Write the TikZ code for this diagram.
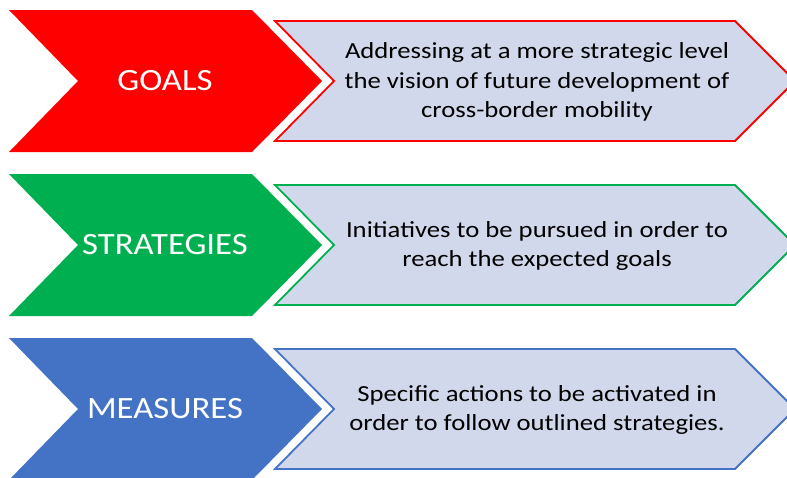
\documentclass[tikz,border=0pt]{standalone}
\usepackage{fontspec}
\setmainfont{Carlito}

\definecolor{goalred}{HTML}{FF0000}
\definecolor{stratgreen}{HTML}{00B050}
\definecolor{measblue}{HTML}{4472C4}
\definecolor{boxfill}{HTML}{D2D8EB}

\tikzset{
  chevlabel/.style={text=white,font=\fontsize{31}{37}\selectfont,xscale=1.12,transform shape},
  boxtext/.style={align=center,text=black,font=\fontsize{23}{29.5}\selectfont,xscale=1.16,transform shape},
  boxline/.style={line width=1.8pt,fill=boxfill,line join=miter},
}

\begin{document}
\begin{tikzpicture}[x=1pt,y=-1pt]
  \useasboundingbox (0,0) rectangle (787,477);
  \clip (0,0) rectangle (787,477);

  % goals
  \fill[goalred] (9,10) -- (252,10) -- (322,81) -- (252,152) -- (9,152) -- (78,81) -- cycle;
  \draw[boxline,draw=goalred] (275,21) -- (735,21) -- (795,81) -- (735,141) -- (275,141) -- (334,81) -- cycle;
  \node[chevlabel] (goals) at (165,81) {GOALS};
  \node[boxtext] (goalstext) at (537,82) {Addressing at a more strategic level\\the vision of future development of\\cross-border mobility};

  % strategies
  \fill[stratgreen] (9,174) -- (252,174) -- (322,245) -- (252,316) -- (9,316) -- (78,245) -- cycle;
  \draw[boxline,draw=stratgreen] (275,185) -- (735,185) -- (795,245) -- (735,305) -- (275,305) -- (334,245) -- cycle;
  \node[chevlabel] (strategies) at (165,245) {STRATEGIES};
  \node[boxtext] (strategiestext) at (537,246) {Initiatives to be pursued in order to\\reach the expected goals};

  % measures
  \fill[measblue] (9,338) -- (252,338) -- (322,409) -- (252,480) -- (9,480) -- (78,409) -- cycle;
  \draw[boxline,draw=measblue] (275,349) -- (735,349) -- (795,409) -- (735,469) -- (275,469) -- (334,409) -- cycle;
  \node[chevlabel] (measures) at (165,409) {MEASURES};
  \node[boxtext] (measurestext) at (537,410) {Specific actions to be activated in\\order to follow outlined strategies.};
\end{tikzpicture}
\end{document}
